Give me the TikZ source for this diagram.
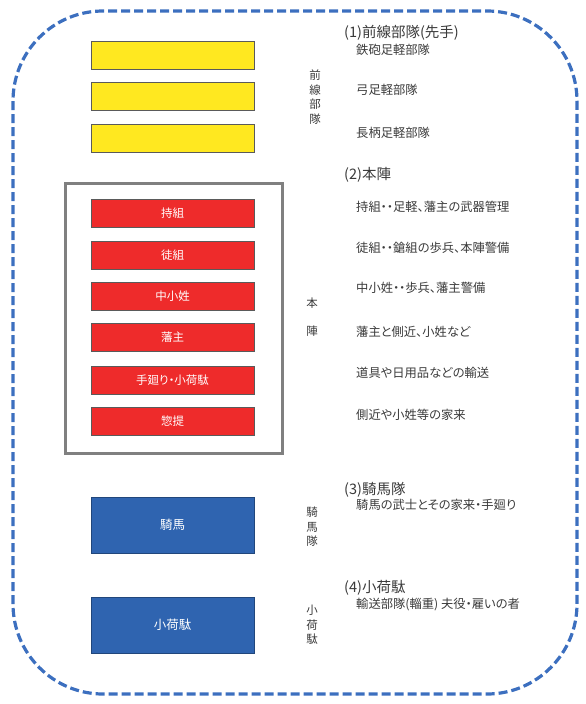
\documentclass[tikz,border=0pt]{standalone}
\usepackage{fontspec}
\setmainfont{Noto Sans CJK JP}
\newfontfamily\jpp[RawFeature=+palt]{Noto Sans CJK JP}
\definecolor{yel}{HTML}{FFE820}
\definecolor{redb}{HTML}{EE2B2B}
\definecolor{blub}{HTML}{2F64B0}
\definecolor{dashc}{HTML}{3C6FBF}
\definecolor{txt}{HTML}{3A3A3A}
\definecolor{edge}{HTML}{5A5A5A}
\tikzset{
  box/.style={draw=edge, line width=1pt, minimum width=163pt, inner sep=0pt},
  ybox/.style={box, fill=yel, minimum height=28pt},
  rbox/.style={box, fill=redb, minimum height=28pt, text=white, font=\jpp\fontsize{11.5}{11.5}\selectfont},
  bbox/.style={box, draw=blub!70!black, fill=blub, minimum height=56pt, text=white, font=\jpp\fontsize{12.5}{12.5}\selectfont},
  head/.style={anchor=west, text=txt, inner sep=0pt, font=\jpp\fontsize{14.5}{14.5}\selectfont},
  sub/.style={anchor=west, text=txt, inner sep=0pt, font=\jpp\fontsize{12.3}{12.3}\selectfont},
  vlab/.style={text=txt, inner sep=0pt, align=center, font=\fontsize{11.5}{14.5}\selectfont},
}
\begin{document}
\begin{tikzpicture}[x=1pt,y=-1pt]
\useasboundingbox (0,0) rectangle (586,704);
\draw[dashc, line width=3.2pt, dash pattern=on 9pt off 4pt, rounded corners=90pt] (13,11) rectangle (577,694);
% front line
\node[ybox] (y1) at (172.5,55) {};
\node[ybox] (y2) at (172.5,96) {};
\node[ybox] (y3) at (172.5,138) {};
\node[vlab] (v1) at (315,97) {前\\線\\部\\隊};
% honjin frame
\node[draw=gray, line width=2.5pt, minimum width=217pt, minimum height=270pt, inner sep=0pt] (frame) at (174,318.5) {};
\node[rbox] (r1) at (172.5,213) {持組};
\node[rbox] (r2) at (172.5,255) {徒組};
\node[rbox] (r3) at (172.5,296) {中小姓};
\node[rbox] (r4) at (172.5,337.5) {藩主};
\node[rbox] (r5) at (172.5,380) {手廻り・小荷駄};
\node[rbox] (r6) at (172.5,421.5) {惣提};
\node[vlab] (v2a) at (312,303) {本};
\node[vlab] (v2b) at (312,331) {陣};
% cavalry / baggage
\node[bbox] (b1) at (172.5,525) {騎馬};
\node[bbox] (b2) at (172.5,625) {小荷駄};
\node[vlab] (v3) at (312,527) {騎\\馬\\隊};
\node[vlab] (v4) at (312,625) {小\\荷\\駄};
% right texts
\node[head] (h1) at (344,33) {(1)前線部隊(先手)};
\node[sub] (s11) at (356,50) {鉄砲足軽部隊};
\node[sub] (s12) at (356,90) {弓足軽部隊};
\node[sub] (s13) at (356,133) {長柄足軽部隊};
\node[head] (h2) at (344,175) {(2)本陣};
\node[sub] (s21) at (356,207) {持組・・足軽、藩主の武器管理};
\node[sub] (s22) at (356,248) {徒組・・鎗組の歩兵、本陣警備};
\node[sub] (s23) at (356,288) {中小姓・・歩兵、藩主警備};
\node[sub] (s24) at (356,332) {藩主と側近、小姓など};
\node[sub] (s25) at (356,373) {道具や日用品などの輸送};
\node[sub] (s26) at (356,415) {側近や小姓等の家来};
\node[head] (h3) at (344,490) {(3)騎馬隊};
\node[sub] (s31) at (356,505) {騎馬の武士とその家来・手廻り};
\node[head] (h4) at (344,588) {(4)小荷駄};
\node[sub] (s41) at (356,605) {輸送部隊(輜重)\ 夫役・雇いの者};
\end{tikzpicture}
\end{document}
